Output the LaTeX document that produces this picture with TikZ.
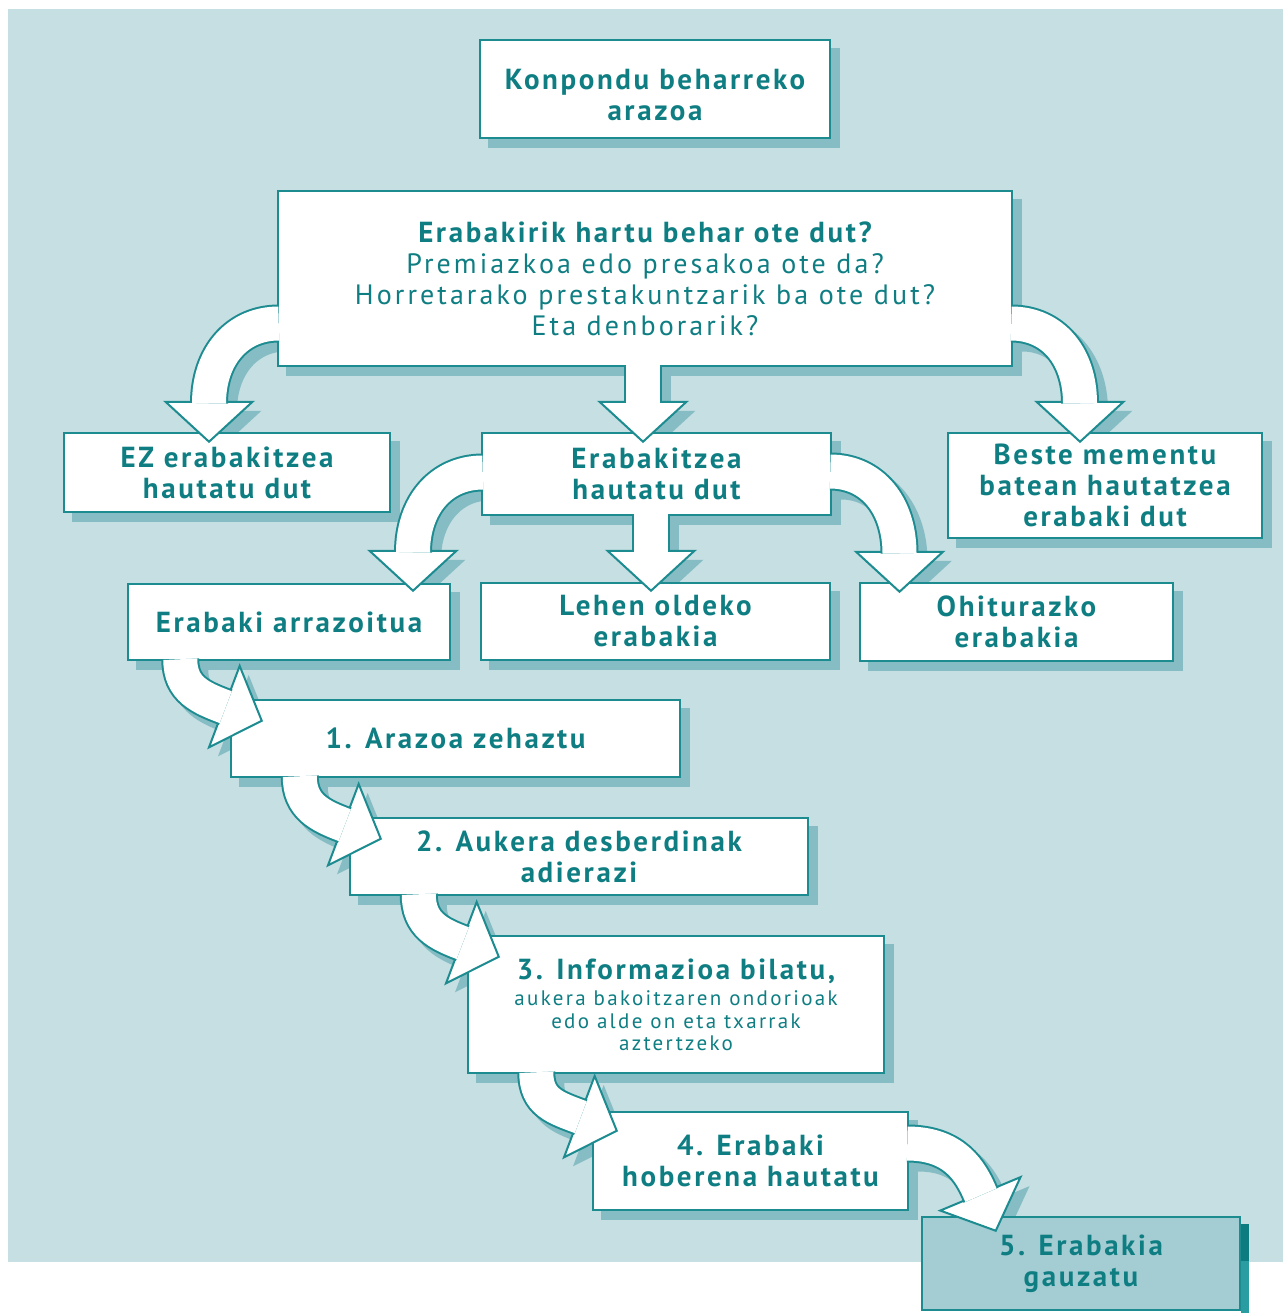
\documentclass[tikz,border=0pt]{standalone}
\usepackage{fontspec}
\setmainfont{PT Sans}
\newfontfamily\boldsp[LetterSpace=9]{PT Sans}
\newfontfamily\regsp[LetterSpace=11]{PT Sans}
\usetikzlibrary{calc}
\definecolor{bgc}{HTML}{C6DFE3}
\definecolor{linec}{HTML}{1C8C91}
\definecolor{textc}{HTML}{0F7E83}
\definecolor{shadowc}{HTML}{86BDC4}
\definecolor{fivefill}{HTML}{A4CDD3}
\definecolor{fiveshadow}{HTML}{0D7C80}
\definecolor{fiveshadowlow}{HTML}{2A9DA2}
\pgfdeclarelayer{bg}
\pgfdeclarelayer{shad}
\pgfsetlayers{bg,shad,main}
\newcommand\blockarrow[4]{%
  \coordinate (bS) at #1;
  \coordinate (bC1) at #2;
  \coordinate (bC2) at #3;
  \coordinate (bT) at #4;
  \coordinate (bE) at ($(bT)!40pt!(bC2)$);
  \coordinate (bL) at ($(bE)!43.5pt!90:(bT)$);
  \coordinate (bR) at ($(bE)!43.5pt!-90:(bT)$);
  \begin{pgfonlayer}{shad}
    \begin{scope}[transform canvas={shift={(9pt,-9pt)}}]
      \draw[shadowc, line width=38pt] (bS) .. controls (bC1) and (bC2) .. (bE);
      \fill[shadowc] (bL) -- (bT) -- (bR) -- cycle;
    \end{scope}
  \end{pgfonlayer}
  \filldraw[headst] (bL) -- (bT) -- (bR) -- cycle;
  \draw[shaftst] (bS) .. controls (bC1) and (bC2) .. (bE);
}
\newcommand\lowered[1]{\raisebox{-6pt}[\height][\depth]{#1}}
\begin{document}
\begin{tikzpicture}[x=1pt,y=-1pt,
  box/.style={draw=linec, line width=2.5pt, fill=white, text=textc, inner sep=0pt,
    align=center, font=\boldsp\bfseries\fontsize{29}{31}\selectfont},
  headst/.style={draw=linec, line width=2pt, fill=white, line join=miter},
  shaftst/.style={draw=linec, line width=2pt, double=white, double distance=34pt,
    shorten <=-2pt, shorten >=-1.5pt}]
\useasboundingbox (0,0) rectangle (1283,1313);
\begin{pgfonlayer}{bg}
  \fill[bgc] (8,9) rectangle (1283,1262);
\end{pgfonlayer}
% boxes
\node[box, minimum width=350pt, minimum height=98pt] (top) at (655,89) {\lowered{Konpondu beharreko}\\\lowered{arazoa}};
\node[box, minimum width=734pt, minimum height=175pt, font=\regsp\fontsize{28}{31}\selectfont] (big) at (645,278.5)
  {{\boldsp\bfseries\fontsize{29}{31}\selectfont Erabakirik hartu behar ote dut?}\\Premiazkoa edo presakoa ote da?\\Horretarako prestakuntzarik ba ote dut?\\Eta denborarik?};
\node[box, minimum width=326pt, minimum height=79pt] (ez) at (227,472.5) {EZ erabakitzea\\hautatu dut};
\node[box, minimum width=349pt, minimum height=82pt] (erab) at (656.5,474) {Erabakitzea\\hautatu dut};
\node[box, minimum width=314pt, minimum height=105pt] (beste) at (1105,485.5) {Beste mementu\\batean hautatzea\\erabaki dut};
\node[box, minimum width=322pt, minimum height=76pt] (arraz) at (289,622) {Erabaki arrazoitua};
\node[box, minimum width=349pt, minimum height=77pt] (lehen) at (655.5,621.5) {Lehen oldeko\\erabakia};
\node[box, minimum width=313pt, minimum height=78pt] (ohit) at (1016.5,622) {Ohiturazko\\erabakia};
\node[box, minimum width=449pt, minimum height=77pt] (s1) at (455.5,738.5) {1. Arazoa zehaztu};
\node[box, minimum width=458pt, minimum height=77pt] (s2) at (579,856.5) {2. Aukera desberdinak\\adierazi};
\node[box, minimum width=416pt, minimum height=137pt] (s3) at (676,1004.5)
  {3. Informazioa bilatu,\\[-5pt]{\regsp\mdseries\fontsize{21}{22}\selectfont aukera bakoitzaren ondorioak}\\[-8pt]{\regsp\mdseries\fontsize{21}{22}\selectfont edo alde on eta txarrak}\\[-9pt]{\regsp\mdseries\fontsize{21}{22}\selectfont aztertzeko}};
\node[box, minimum width=315pt, minimum height=98pt] (s4) at (750.5,1161) {4. Erabaki\\hoberena hautatu};
\node[box, fill=fivefill, minimum width=318pt, minimum height=93pt] (s5) at (1081,1263.5) {5. Erabakia\\gauzatu};
% box shadows
\begin{pgfonlayer}{shad}
  \foreach \n in {top,big,ez,erab,beste,arraz,lehen,ohit,s1,s2,s3,s4}
    \fill[shadowc] ($(\n.north west)+(9,9)$) rectangle ($(\n.south east)+(9,9)$);
  \fill[fiveshadowlow] ($(s5.north east)+(0,8)$) rectangle ($(s5.south east)+(8,8)$);
  \fill[fiveshadow] ($(s5.north east)+(0,8)$) rectangle ($(s5.north east)+(8,45)$);
\end{pgfonlayer}
% arrows
\blockarrow{($(big.west)+(0,45)$)}{($(big.west)+(-40,45)$)}{($(ez.north)+(-18,-75)$)}{($(ez.north)+(-18,10)$)}
\blockarrow{($(big.south)+(-2,0)$)}{($(big.south)+(-2,10)$)}{($(erab.north)+(-13.5,-40)$)}{($(erab.north)+(-13.5,10)$)}
\blockarrow{($(big.east)+(0,45)$)}{($(big.east)+(40,45)$)}{($(beste.north)+(-25,-75)$)}{($(beste.north)+(-25,10)$)}
\blockarrow{($(erab.west)+(0,-1.5)$)}{($(erab.west)+(-40,-1.5)$)}{($(arraz.north)+(124,-77)$)}{($(arraz.north)+(124,8)$)}
\blockarrow{($(erab.south)+(-5.5,0)$)}{($(erab.south)+(-5.5,10)$)}{($(lehen.north)+(-4.5,-41)$)}{($(lehen.north)+(-4.5,9)$)}
\blockarrow{($(erab.east)+(0,-2.5)$)}{($(erab.east)+(40,-2.5)$)}{($(ohit.north)+(-117,-76)$)}{($(ohit.north)+(-117,10)$)}
\blockarrow{($(arraz.south west)+(53.5,0)$)}{($(arraz.south west)+(53.5,28)$)}{($(s1.north west)+(-29,-1)$)}{($(s1.north west)+(32,22)$)}
\blockarrow{($(s1.south west)+(70,0)$)}{($(s1.south west)+(70,28)$)}{($(s2.north west)+(-29,-1)$)}{($(s2.north west)+(32,22)$)}
\blockarrow{($(s2.south west)+(70,0)$)}{($(s2.south west)+(70,28)$)}{($(s3.north west)+(-29,-1)$)}{($(s3.north west)+(32,22)$)}
\blockarrow{($(s3.south west)+(69.5,0)$)}{($(s3.south west)+(69.5,28)$)}{($(s4.north west)+(-36,-3)$)}{($(s4.north west)+(25,20)$)}
\blockarrow{($(s4.east)+(0,-17.5)$)}{($(s4.east)+(45,-17.5)$)}{($(s5.north west)+(50,-45)$)}{($(s5.north west)+(75,15)$)}
\end{tikzpicture}
\end{document}
